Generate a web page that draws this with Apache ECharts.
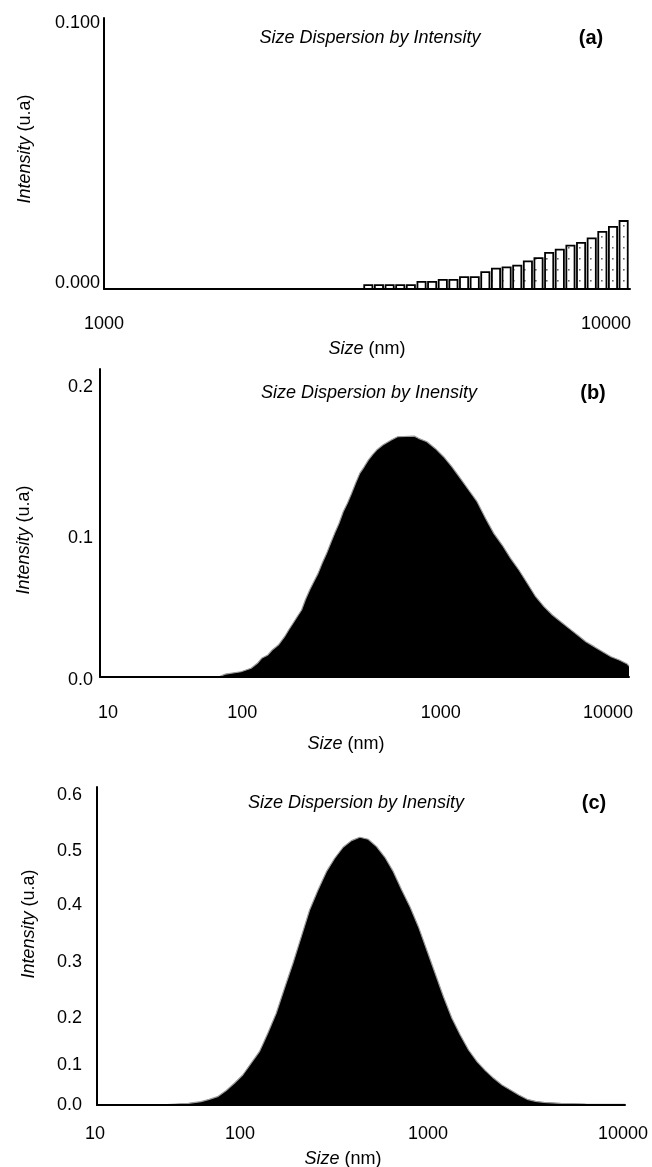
<!DOCTYPE html>
<html><head><meta charset="utf-8">
<script src="https://cdn.jsdelivr.net/npm/echarts@6/dist/echarts.min.js"></script>
<style>html,body{margin:0;padding:0;background:#fff}#chart{width:652px;height:1167px}</style>
</head><body><div id="chart"></div>
<script>
// ---------------- data ----------------
// (a) bar histogram, size (nm) and intensity (u.a)
const sizesA = [3361,3529,3706,3891,4085,4290,4504,4729,4966,5214,5475,5748,6036,6337,6654,6987,7336,7703,8088,8493,8917,9363,9831,10323,10839];
const intensityA = [0.0014,0.0014,0.0014,0.0014,0.0014,0.0026,0.0026,0.0034,0.0034,0.0044,0.0044,0.0062,0.0075,0.0080,0.0086,0.0102,0.0114,0.0133,0.0145,0.0160,0.0170,0.0187,0.0211,0.0229,0.0251];
// (b) distribution
const sizesB = [10,50,55,68,78,85,90,98,104,113,123,130,138,146,155,163,173,183,194,205,218,230,243,258,273,289,306,323,342,363,384,406,430,468,525,572,718,760,852,954,1069,1198,1343,1504,1686,1890,2116,2372,2659,2977,3337,3741,4188,4695,5263,5892,6604,7404,8288,9292,10420,11660,13000,13300];
const intensityB = [0,0,0.002,0.0036,0.006,0.0094,0.0128,0.0151,0.0185,0.0219,0.0276,0.0322,0.0368,0.0413,0.0459,0.0527,0.0596,0.0653,0.071,0.0779,0.0847,0.0916,0.0984,0.1053,0.1132,0.119,0.1258,0.1327,0.1395,0.144,0.1486,0.1521,0.1555,0.1589,0.1623,0.1646,0.165,0.1635,0.1612,0.1566,0.1509,0.144,0.1361,0.1281,0.1201,0.1087,0.0984,0.0904,0.0813,0.0733,0.0642,0.055,0.0482,0.0425,0.0379,0.0333,0.0288,0.0242,0.0208,0.0173,0.0139,0.0116,0.0089,0.0075];
// (c) distribution
const sizesC = [10,25,33,39,43.4,48.4,54,60.3,67.3,75,83.7,93.4,104.3,116.2,129.8,144.8,161.4,180.2,201.1,224.2,250.2,279.3,311.3,347.5,387.8,432.3,482.6,538.7,600.3,670,747.8,833.7,930.5,1039,1159,1292,1443,1610,1795,2003,2236,2493,2782,3105,3461,4312,5989,10000];
const intensityC = [0,0.001,0.0032,0.0064,0.011,0.0161,0.0277,0.042,0.058,0.0806,0.1031,0.1387,0.1774,0.2257,0.2741,0.3255,0.3772,0.4159,0.4513,0.4772,0.4985,0.5113,0.5178,0.5139,0.4996,0.4791,0.4513,0.4159,0.3836,0.3449,0.2998,0.2547,0.2095,0.1677,0.1354,0.1064,0.0838,0.0664,0.0516,0.0387,0.029,0.0193,0.011,0.0071,0.0052,0.0032,0.0019,0.0013];
// tick labels
const xTicksA = [1000, 10000];
const xTicksBC = [10, 100, 1000, 10000];
const yTicksA = [0, 0.1];
const yTicksB = [0, 0.1, 0.2];
const yTicksC = [0, 0.1, 0.2, 0.3, 0.4, 0.5, 0.6];
// texts
const titleA = 'Size Dispersion by Intensity';
const titleBC = 'Size Dispersion by Inensity';
const tags = ['(a)', '(b)', '(c)'];

// ---------------- fonts ----------------
function hasFont(name) {
  const c = document.createElement('canvas').getContext('2d');
  const t = 'Size Dispersion 0123456789 mmmwwwiii';
  c.font = '40px monospace'; const w1 = c.measureText(t).width;
  c.font = '40px "' + name + '", monospace'; const w2 = c.measureText(t).width;
  return Math.abs(w1 - w2) > 0.5;
}
const NARROW = hasFont('Liberation Sans Narrow');
const FF = NARROW ? '"Liberation Sans Narrow", "Liberation Sans", Arial, sans-serif' : '"Liberation Sans", Arial, sans-serif';
const FS_TICK = NARROW ? 20 : 18, FS_NAME = NARROW ? 21 : 18, FS_TITLE = NARROW ? 21 : 18, FS_TAG = NARROW ? 23 : 20;

// ---------------- helpers ----------------
function tickLabels(values, shifts, decimals, horizontal, margin) {
  const rich = {};
  values.forEach((v, i) => {
    const d = shifts[i] || 0;
    let pad;
    if (horizontal) pad = d < 0 ? [0, -2 * d, 0, 0] : [0, 0, 0, 2 * d];
    else pad = d > 0 ? [2 * d, 0, 0, 0] : [0, 0, -2 * d, 0];
    rich['t' + i] = { padding: pad, fontSize: FS_TICK, fontFamily: FF, color: '#000' };
  });
  return {
    show: true, margin: margin, color: '#000', fontSize: FS_TICK, fontFamily: FF, rich: rich,
    formatter: function (val) {
      for (let i = 0; i < values.length; i++) {
        if (Math.abs(val - values[i]) <= Math.abs(values[i]) * 1e-6 + 1e-9) {
          const s = decimals == null ? String(values[i]) : values[i].toFixed(decimals);
          return '{t' + i + '|' + s + '}';
        }
      }
      return '';
    }
  };
}
function nameStyle(padding) {
  return {
    color: '#000', fontSize: FS_NAME, fontFamily: FF, padding: padding,
    rich: { it: { fontStyle: 'italic', fontSize: FS_NAME, fontFamily: FF, color: '#000' },
            n: { fontSize: FS_NAME, fontFamily: FF, color: '#000' } }
  };
}
const axisLineStyle = { show: true, lineStyle: { color: '#000', width: 2 } };
function xAxisCfg(gi, min, max, ticks, shifts, margin, gap, namePad) {
  return {
    type: 'log', logBase: 10, gridIndex: gi, min: min, max: max, z: 3,
    axisLine: axisLineStyle, axisTick: { show: false }, splitLine: { show: false },
    axisLabel: tickLabels(ticks, shifts, null, true, margin),
    name: '{it|Size}{n| (nm)}', nameLocation: 'middle', nameGap: gap, nameTextStyle: nameStyle(namePad)
  };
}
function yAxisCfg(gi, max, ticks, dec, shifts, margin, gap, namePad) {
  return {
    type: 'value', gridIndex: gi, min: 0, max: max, interval: 0.1, z: 3,
    axisLine: axisLineStyle, axisTick: { show: false }, splitLine: { show: false },
    axisLabel: tickLabels(ticks, shifts, dec, false, margin),
    name: '{it|Intensity}{n| (u.a)}', nameLocation: 'middle', nameRotate: 90, nameGap: gap, nameTextStyle: nameStyle(namePad)
  };
}

// dotted fill for the bars
const pat = document.createElement('canvas'); pat.width = 11; pat.height = 11;
const pg = pat.getContext('2d'); pg.fillStyle = '#fff'; pg.fillRect(0, 0, 11, 11);
pg.fillStyle = '#666'; pg.fillRect(7, 5, 1.6, 1.6);
const dotFill = { image: pat, repeat: 'repeat' };
const BAR_W = 8.2;

function areaSeries(xi, sizes, vals) {
  return {
    type: 'line', xAxisIndex: xi, yAxisIndex: xi, data: sizes.map((s, i) => [s, vals[i]]),
    showSymbol: false, symbol: 'none', smooth: false, silent: true,
    lineStyle: { color: '#9a9a9a', width: 1.2 }, areaStyle: { color: '#000', opacity: 1 }, z: 2
  };
}

const chart = echarts.init(document.getElementById('chart'), null, { renderer: 'canvas' });
chart.setOption({
  animation: false,
  backgroundColor: '#fff',
  grid: [
    { left: 104, top: 18, width: 526, height: 271, containLabel: false, outerBoundsMode: 'none' },
    { left: 100, top: 369, width: 529, height: 308, containLabel: false, outerBoundsMode: 'none' },
    { left: 97, top: 787, width: 528, height: 318, containLabel: false, outerBoundsMode: 'none' }
  ],
  xAxis: [
    xAxisCfg(0, 1000, 11160, xTicksA, [0, 0], 26, 51, [0, 0, 0, 0]),
    xAxisCfg(1, 10, 13300, xTicksBC, [8, -27, 2, 0], 27, 58, [0, 37, 0, 0]),
    xAxisCfg(2, 10, 10000, xTicksBC, [-2, -33, -21, -2], 20, 45, [0, 36, 0, 0])
  ],
  yAxis: [
    yAxisCfg(0, 0.1, yTicksA, 3, [-6, 5], 4, 70, [0, 0, 0, 9]),
    yAxisCfg(1, 0.211, yTicksB, 1, [3, 7, 2], 7, 67, [0, 34, 0, 0]),
    yAxisCfg(2, 0.615, yTicksC, 1, [0, 12, 16, 12, 7, 5, 0], 15, 59, [0, 0, 0, 44])
  ],
  series: [
    {
      type: 'custom', xAxisIndex: 0, yAxisIndex: 0, silent: true, z: 2,
      data: sizesA.map((s, i) => [s, intensityA[i]]),
      renderItem: function (params, api) {
        const top = api.coord([api.value(0), api.value(1)]);
        const base = api.coord([api.value(0), 0]);
        return {
          type: 'rect',
          shape: { x: top[0] - BAR_W / 2, y: top[1], width: BAR_W, height: base[1] - top[1] },
          style: { fill: dotFill, stroke: '#000', lineWidth: 1.8 }
        };
      }
    },
    areaSeries(1, sizesB, intensityB),
    areaSeries(2, sizesC, intensityC)
  ],
  graphic: [
    { type: 'text', x: 370, y: 38, style: { text: titleA, fontFamily: FF, fontSize: FS_TITLE, fontStyle: 'italic', fill: '#000', align: 'center', verticalAlign: 'middle' } },
    { type: 'text', x: 591, y: 38, style: { text: tags[0], fontFamily: FF, fontSize: FS_TAG, fontWeight: 'bold', fill: '#000', align: 'center', verticalAlign: 'middle' } },
    { type: 'text', x: 369, y: 393, style: { text: titleBC, fontFamily: FF, fontSize: FS_TITLE, fontStyle: 'italic', fill: '#000', align: 'center', verticalAlign: 'middle' } },
    { type: 'text', x: 593, y: 393, style: { text: tags[1], fontFamily: FF, fontSize: FS_TAG, fontWeight: 'bold', fill: '#000', align: 'center', verticalAlign: 'middle' } },
    { type: 'text', x: 356, y: 803, style: { text: titleBC, fontFamily: FF, fontSize: FS_TITLE, fontStyle: 'italic', fill: '#000', align: 'center', verticalAlign: 'middle' } },
    { type: 'text', x: 594, y: 803, style: { text: tags[2], fontFamily: FF, fontSize: FS_TAG, fontWeight: 'bold', fill: '#000', align: 'center', verticalAlign: 'middle' } }
  ]
});
</script>
</body></html>
